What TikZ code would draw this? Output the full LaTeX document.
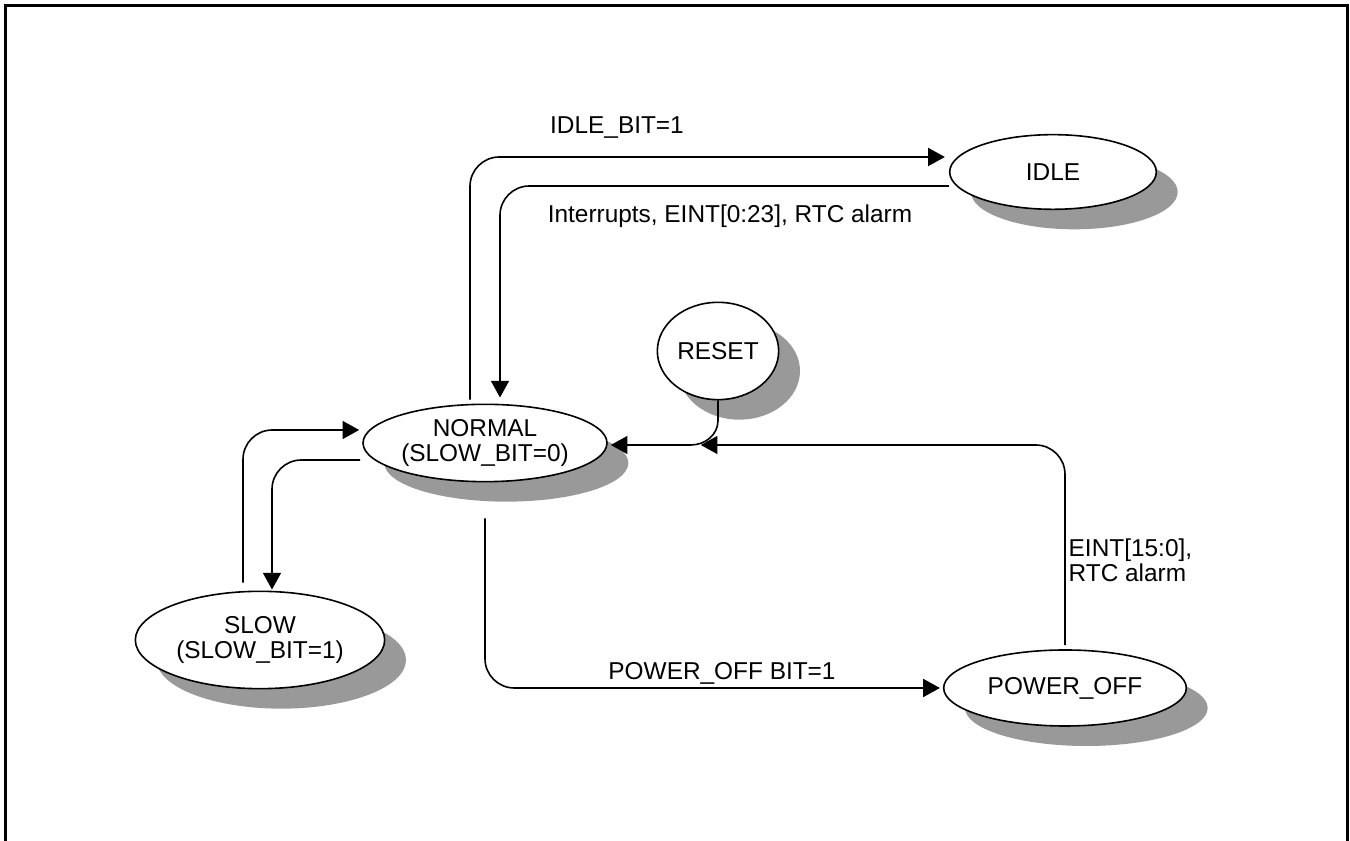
\documentclass[tikz,border=0pt]{standalone}
\usepackage{fontspec}
\setmainfont{Liberation Sans}
\usetikzlibrary{arrows.meta,calc,shapes.geometric,shadows}

\begin{document}
\begin{tikzpicture}[x=0.75pt,y=0.75pt,
    font=\fontsize{18.3}{19}\selectfont,
    state/.style={ellipse,draw,line width=1.2pt,fill=white,inner sep=0pt,align=center,
        drop shadow={shadow xshift=16pt,shadow yshift=-15pt,fill=black!40,opacity=1}},
    flow/.style={line width=1.2pt,rounded corners=22pt,-{Triangle[length=12.5pt,width=13.5pt]}}]

\useasboundingbox (0,0) rectangle (1350,841);
\draw[line width=2.25pt] (5,-5) -- (5,835) -- (1347,835) -- (1347,-5);

\node[state,minimum width=155pt,minimum height=56pt] (idle) at (1053,669) {IDLE};
\node[state,minimum width=91pt,minimum height=73pt] (reset) at (718,490) {RESET};
\node[state,minimum width=183pt,minimum height=58pt] (normal) at (485,398) {NORMAL\\(SLOW\_BIT=0)};
\node[state,minimum width=187pt,minimum height=73pt] (slow) at (260,201) {SLOW\\(SLOW\_BIT=1)};
\node[state,minimum width=182pt,minimum height=57pt] (poweroff) at (1065,153) {POWER\_OFF};

\draw[flow] (normal.north) ++(-15,4) |- ($(idle.west)+(-4,15)$);
\draw[flow] ($(idle.west)+(0,-14)$) -| ($(normal.north)+(15,6)$);
\draw[flow] ($(normal.west)+(-2,-17)$) -| ($(slow.north)+(12,1)$);
\draw[flow] ($(slow.north)+(-17,8)$) |- ($(normal.west)+(-3,13)$);
\draw[flow] ($(normal.south)+(0,-36)$) |- ($(poweroff.west)+(-3,0)$);
\draw[flow] ($(poweroff.north)+(0,4)$) |- ($(normal.east)+(93,-2)$);
\draw[flow,sharp corners] (reset.south) -- ++(0,-20) to[out=-90,in=0] ($(normal.east)+(83,-2)$) -- ($(normal.east)+(3,-2)$);

\node (idlebit) at (617,713) {IDLE\_BIT=1};
\node (wakeup) at (730,625) {Interrupts, EINT[0:23], RTC alarm};
\node (offbit) at (722,168) {POWER\_OFF BIT=1};
\node[anchor=west,align=left] (eint) at (1064,281) {EINT[15:0],\\RTC alarm};
\end{tikzpicture}
\end{document}
